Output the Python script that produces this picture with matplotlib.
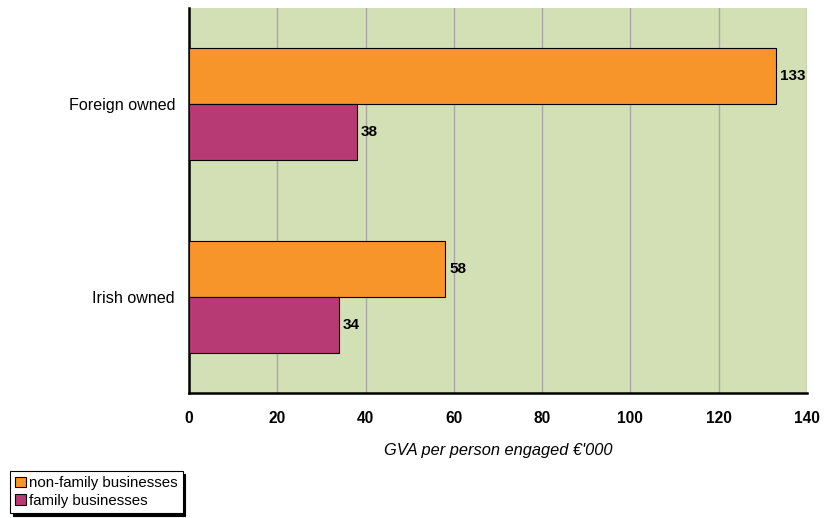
import matplotlib
matplotlib.use("Agg")
import matplotlib.pyplot as plt
import numpy as np

plt.rcParams["font.family"] = ["Liberation Sans", "DejaVu Sans"]

categories = ["Irish owned", "Foreign owned"]
series_names = ["non-family businesses", "family businesses"]
non_family = [58, 133]
family = [34, 38]
x_ticks = [0, 20, 40, 60, 80, 100, 120, 140]
x_label = "GVA per person engaged €'000"

colors = ["#F7942A", "#B83A75"]
bg = "#D3DFB5"

fig = plt.figure(figsize=(8.24, 5.18), dpi=100)
ax = fig.add_axes([189 / 824, 1 - 393 / 518, 618 / 824, 385 / 518])
ax.set_facecolor(bg)

pos = np.arange(len(categories))
h = 0.29
bars_nf = ax.barh(pos + h / 2, non_family, height=h, color=colors[0],
                  edgecolor="black", linewidth=0.8, label=series_names[0], zorder=3)
bars_f = ax.barh(pos - h / 2, family, height=h, color=colors[1],
                 edgecolor="black", linewidth=0.8, label=series_names[1], zorder=3)

for bars, vals in ((bars_nf, non_family), (bars_f, family)):
    for b, v in zip(bars, vals):
        ax.text(v + 0.9, b.get_y() + b.get_height() / 2, f"{v}", va="center",
                ha="left", fontsize=11, fontweight="bold", zorder=4)

ax.set_xlim(0, 140)
ax.set_ylim(-0.5, 1.5)
ax.set_xticks(x_ticks)
ax.set_xticklabels([str(t) for t in x_ticks], fontsize=11.2, fontweight="bold")
ax.set_yticks(pos)
ax.set_yticklabels(categories, fontsize=11.6)
ax.tick_params(axis="x", length=0, pad=13)
ax.tick_params(axis="y", length=0, pad=10)
ax.xaxis.grid(True, color="#A8A8A8", linewidth=1.0, zorder=0)
ax.set_axisbelow(True)
for s in ("top", "right"):
    ax.spines[s].set_visible(False)
ax.spines["left"].set_linewidth(1.8)
ax.spines["bottom"].set_linewidth(1.8)
ax.set_xlabel(x_label, fontsize=11.8, fontstyle="italic", labelpad=12)

leg = fig.legend(handles=[bars_nf, bars_f], labels=series_names,
                 loc="lower left", bbox_to_anchor=(10 / 824, 5 / 518),
                 fontsize=10.8, frameon=True, fancybox=False,
                 shadow={"color": "black", "alpha": 1.0},
                 handlelength=0.7, handleheight=0.7, handletextpad=0.2,
                 borderpad=0.35, labelspacing=0.25, borderaxespad=0)
leg.get_frame().set_edgecolor("black")
leg.get_frame().set_linewidth(0.8)

fig.savefig("out.png", dpi=100)
